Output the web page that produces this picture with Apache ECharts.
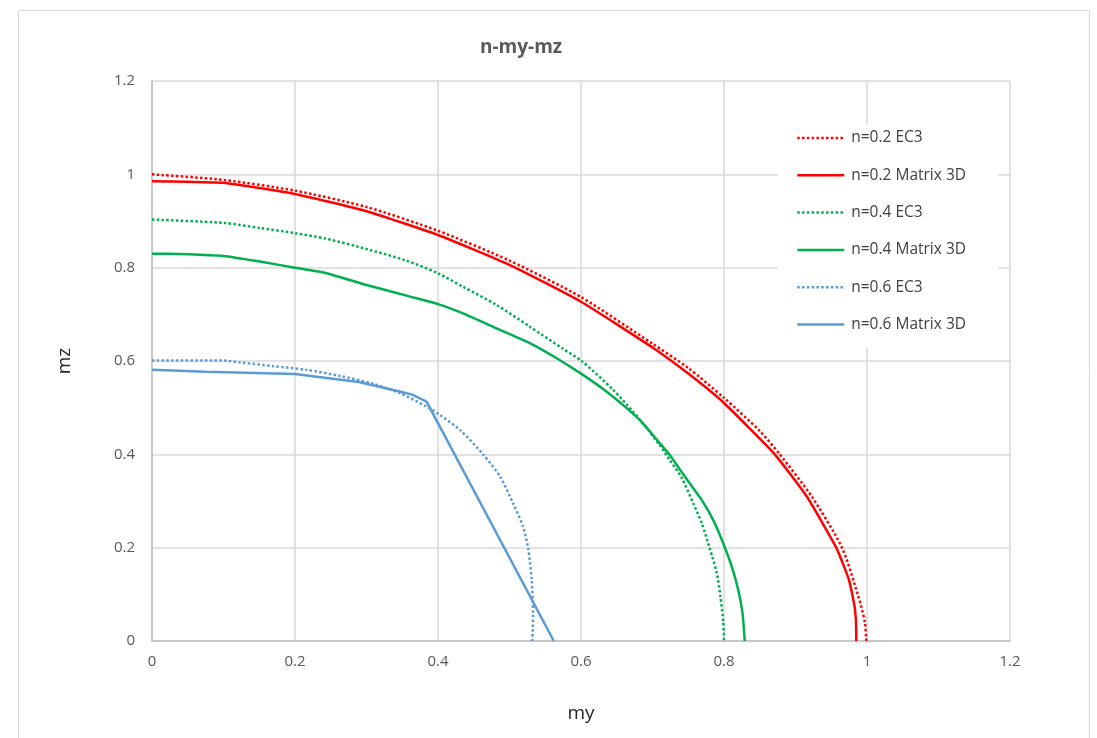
<!DOCTYPE html>
<html>
<head>
<meta charset="utf-8">
<script src="https://cdn.jsdelivr.net/npm/echarts@6/dist/echarts.min.js"></script>
<style>
html,body{margin:0;padding:0;background:#fff;}
#chart{width:1097px;height:738px;}
</style>
</head>
<body>
<div id="chart"></div>
<script>
// ---- data (my, mz) ----
const seriesNames = ['n=0.2 EC3', 'n=0.2 Matrix 3D', 'n=0.4 EC3', 'n=0.4 Matrix 3D', 'n=0.6 EC3', 'n=0.6 Matrix 3D'];

const n02EC3 = [[0,1.000],[0.1,0.988],[0.2,0.965],[0.3,0.930],[0.4,0.879],[0.5,0.815],[0.6,0.737],[0.7,0.637],[0.75,0.585],[0.8,0.521],[0.85,0.450],[0.878,0.400],[0.923,0.309],[0.965,0.200],[0.988,0.095],[0.997,0.04],[0.999,0]];
const n02Matrix = [[0,0.985],[0.05,0.984],[0.1,0.982],[0.2,0.958],[0.3,0.921],[0.4,0.870],[0.5,0.806],[0.6,0.727],[0.7,0.629],[0.75,0.573],[0.8,0.510],[0.871,0.400],[0.916,0.309],[0.957,0.200],[0.975,0.130],[0.983,0.070],[0.985,0.02],[0.985,0]];
const n04EC3 = [[0,0.903],[0.1,0.896],[0.151,0.885],[0.2,0.874],[0.244,0.862],[0.3,0.840],[0.354,0.816],[0.4,0.788],[0.435,0.759],[0.482,0.720],[0.529,0.673],[0.575,0.626],[0.601,0.600],[0.645,0.538],[0.673,0.491],[0.692,0.456],[0.710,0.420],[0.724,0.388],[0.741,0.349],[0.757,0.295],[0.769,0.252],[0.780,0.199],[0.790,0.145],[0.795,0.095],[0.799,0.04],[0.800,0]];
const n04Matrix = [[0,0.830],[0.05,0.829],[0.1,0.825],[0.151,0.813],[0.2,0.800],[0.244,0.788],[0.3,0.763],[0.361,0.738],[0.4,0.722],[0.435,0.702],[0.482,0.670],[0.529,0.638],[0.566,0.606],[0.599,0.574],[0.631,0.540],[0.664,0.499],[0.687,0.466],[0.710,0.424],[0.724,0.399],[0.738,0.368],[0.752,0.338],[0.769,0.302],[0.785,0.259],[0.799,0.209],[0.811,0.159],[0.820,0.109],[0.826,0.059],[0.829,0]];
const n06EC3 = [[0,0.601],[0.1,0.601],[0.123,0.597],[0.170,0.589],[0.216,0.581],[0.263,0.568],[0.310,0.551],[0.347,0.531],[0.384,0.502],[0.403,0.484],[0.431,0.452],[0.463,0.400],[0.487,0.352],[0.505,0.295],[0.519,0.245],[0.526,0.199],[0.531,0.131],[0.533,0.059],[0.532,0]];
const n06Matrix = [[0,0.581],[0.075,0.577],[0.2,0.572],[0.289,0.555],[0.345,0.535],[0.364,0.528],[0.384,0.513],[0.562,0]];

const xTicks = [0, 0.2, 0.4, 0.6, 0.8, 1, 1.2];
const yTicks = [0, 0.2, 0.4, 0.6, 0.8, 1, 1.2];

const seriesData = [n02EC3, n02Matrix, n04EC3, n04Matrix, n06EC3, n06Matrix];
const seriesColors = ['#FF0000', '#FF0000', '#00B050', '#00B050', '#5B9BD5', '#5B9BD5'];
const seriesDotted = [true, false, true, false, true, false];
const seriesSmooth = [0.25, 0.15, 0.25, 0.15, 0.25, false];

const FONT = '"Open Sans", "Liberation Sans", sans-serif';

const chart = echarts.init(document.getElementById('chart'), null, {renderer: 'canvas'});

const series = seriesData.map((d, i) => ({
  name: seriesNames[i],
  type: 'line',
  data: d,
  showSymbol: false,
  symbol: 'none',
  smooth: seriesSmooth[i],
  lineStyle: {
    color: seriesColors[i],
    width: 2.5,
    type: seriesDotted[i] ? [2.5, 2.3] : 'solid',
    cap: 'butt'
  },
  itemStyle: { color: seriesColors[i] },
  emphasis: { disabled: true },
  animation: false,
  z: 2
}));

const option = {
  animation: false,
  backgroundColor: '#fff',
  graphic: [{
    type: 'rect',
    shape: { x: 18.5, y: 10.5, width: 1071, height: 740 },
    style: { fill: 'none', stroke: '#D9D9D9', lineWidth: 1 },
    silent: true, z: 0
  }],
  title: {
    text: 'n-my-mz',
    left: 516,
    top: 33,
    textAlign: 'center',
    textStyle: { fontFamily: FONT, fontSize: 19, fontWeight: 'bold', color: '#595959' }
  },
  grid: { left: 152, right: 87, top: 81, bottom: 97, containLabel: false },
  legend: {
    orient: 'vertical',
    left: 778,
    top: 124,
    padding: [6, 32, 16, 18],
    backgroundColor: '#ffffff',
    itemWidth: 47,
    itemHeight: 14,
    itemGap: 21.3,
    data: seriesNames,
    itemStyle: { color: 'rgba(0,0,0,0)', borderWidth: 0, opacity: 0 },
    lineStyle: { width: 2.5 },
    textStyle: { fontFamily: FONT, fontSize: 15.5, color: '#404040', padding: [0, 0, 0, 2] },
    selectedMode: false
  },
  xAxis: {
    type: 'value',
    min: 0, max: 1.2, interval: 0.2,
    name: 'my',
    nameLocation: 'middle',
    nameGap: 63,
    nameTextStyle: { fontFamily: FONT, fontSize: 19, color: '#262626' },
    axisLine: { show: true, lineStyle: { color: '#BFBFBF', width: 1.5 } },
    axisTick: { show: false },
    axisLabel: {
      fontFamily: FONT, fontSize: 15, color: '#595959', margin: 13,
      formatter: v => { const t = xTicks.find(x => Math.abs(x - v) < 1e-9); return t === undefined ? '' : String(t); }
    },
    splitLine: { show: true, lineStyle: { color: '#D9D9D9', width: 1.5 } }
  },
  yAxis: {
    type: 'value',
    min: 0, max: 1.2, interval: 0.2,
    name: 'mz',
    nameLocation: 'middle',
    nameGap: 78,
    nameTextStyle: { fontFamily: FONT, fontSize: 19, color: '#262626' },
    axisLine: { show: true, lineStyle: { color: '#BFBFBF', width: 1.5 } },
    axisTick: { show: false },
    axisLabel: {
      fontFamily: FONT, fontSize: 15, color: '#595959', margin: 17,
      formatter: v => { const t = yTicks.find(y => Math.abs(y - v) < 1e-9); return t === undefined ? '' : String(t); }
    },
    splitLine: { show: true, lineStyle: { color: '#D9D9D9', width: 1.5 } }
  },
  series: series
};

chart.setOption(option);
</script>
</body>
</html>
